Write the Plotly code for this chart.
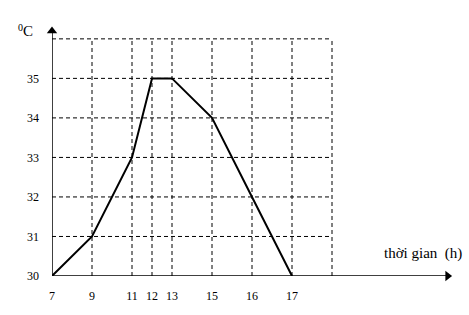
import plotly.graph_objects as go

# Data
hours = ["7", "9", "11", "12", "13", "15", "16", "17"]
x_pos = [0, 2, 4, 5, 6, 8, 10, 12]          # column positions of the hours on the drawing
temps = [30, 31, 33, 35, 35, 34, 32, 30]
y_ticks = [30, 31, 32, 33, 34, 35]
grid_x = [2, 4, 5, 6, 8, 10, 12, 14]
grid_y = [31, 32, 33, 34, 35, 36]

FONT = "Liberation Serif, Times New Roman, serif"
X_END, Y_END = 20, 36.3

fig = go.Figure()
fig.add_trace(go.Scatter(
    x=x_pos, y=temps, mode="lines",
    line=dict(color="black", width=2),
    cliponaxis=False, hoverinfo="skip", showlegend=False,
))
# arrowheads at the axis ends
fig.add_trace(go.Scatter(
    x=[X_END - 0.22, 0], y=[30, Y_END - 0.1], mode="markers",
    marker=dict(symbol=["triangle-right", "triangle-up"], size=9, color="black"),
    cliponaxis=False, hoverinfo="skip", showlegend=False,
))

shapes = []
for gx in grid_x:
    shapes.append(dict(type="line", xref="x", yref="y", x0=gx, x1=gx, y0=30, y1=36,
                       line=dict(color="black", width=1, dash="4px,3px"), layer="below"))
for gy in grid_y:
    shapes.append(dict(type="line", xref="x", yref="y", x0=0, x1=14, y0=gy, y1=gy,
                       line=dict(color="black", width=1, dash="4px,3px"), layer="below"))
# axis lines
shapes.append(dict(type="line", xref="x", yref="y", x0=0, x1=X_END - 0.3, y0=30, y1=30,
                   line=dict(color="black", width=1.5)))
shapes.append(dict(type="line", xref="x", yref="y", x0=0, x1=0, y0=30, y1=Y_END - 0.15,
                   line=dict(color="black", width=1.5)))

annotations = [
    dict(x=16.5, y=30.3, xref="x", yref="y", text="thời gian\u00a0\u00a0(h)", showarrow=False,
         xanchor="left", yanchor="bottom", font=dict(family=FONT, size=15, color="black")),
    dict(x=-0.0675, y=1.0, xref="paper", yref="paper", text="C", showarrow=False,
         xanchor="left", yanchor="top", xshift=-4, yshift=6,
         font=dict(family=FONT, size=15, color="black")),
    dict(x=-0.0675, y=1.0, xref="paper", yref="paper", text="0", showarrow=False,
         xanchor="right", yanchor="top", xshift=0, yshift=7,
         font=dict(family=FONT, size=10, color="black")),
]

fig.update_layout(
    width=469, height=315,
    margin=dict(l=52, r=17, t=27, b=37),
    paper_bgcolor="white", plot_bgcolor="white",
    shapes=shapes, annotations=annotations,
    xaxis=dict(range=[0, X_END], tickvals=x_pos, ticktext=hours, showgrid=False, zeroline=False,
               showline=False, ticks="", ticklabelstandoff=11,
               tickfont=dict(family=FONT, size=12, color="black")),
    yaxis=dict(range=[30, Y_END], tickvals=y_ticks, ticktext=[str(v) for v in y_ticks],
               showgrid=False, zeroline=False, showline=False, ticks="", ticklabelstandoff=12,
               tickfont=dict(family=FONT, size=12, color="black")),
)

fig.write_html("out.html")
